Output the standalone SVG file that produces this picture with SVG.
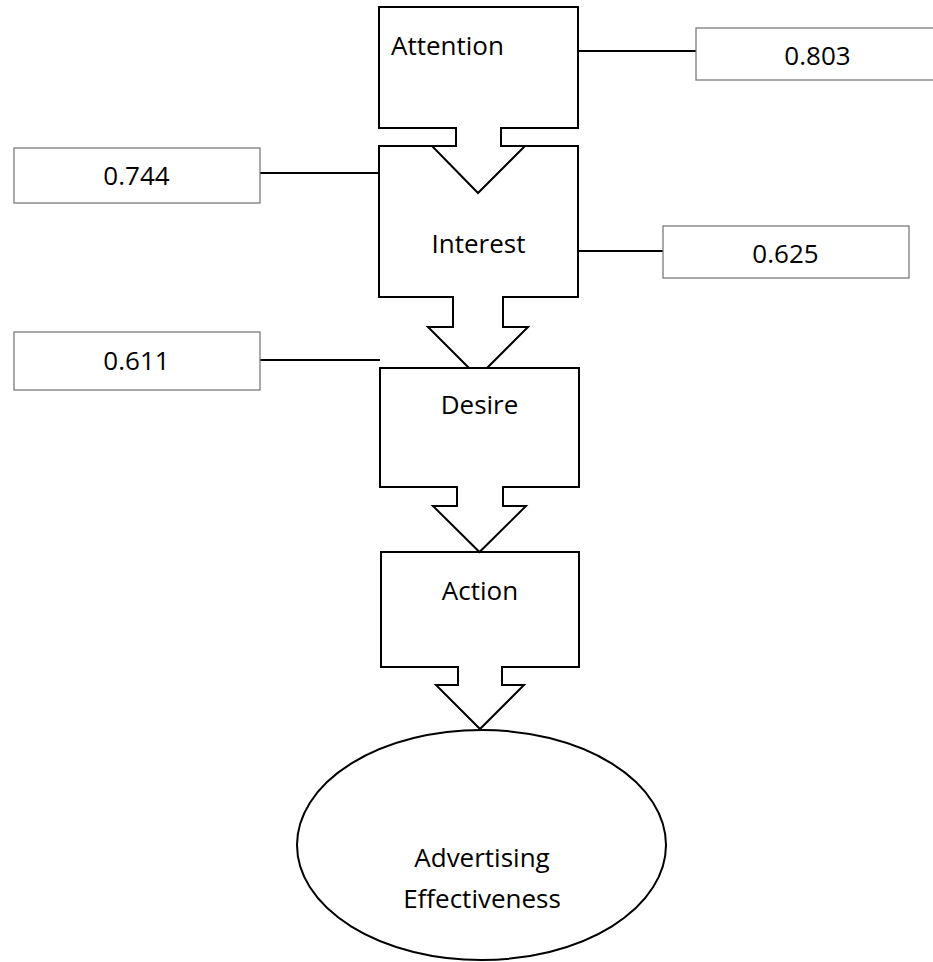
<svg xmlns="http://www.w3.org/2000/svg" width="933" height="962" viewBox="0 0 933 962">
<style>
.shape{fill:#fff;stroke:#000;stroke-width:2;stroke-linejoin:miter}
.vbox{fill:#fff;stroke:#707070;stroke-width:1.2}
.conn{stroke:#000;stroke-width:2;fill:none}
text{font-family:"Open Sans","Noto Sans","Liberation Sans",sans-serif;font-size:26px;fill:#000}
.c{text-anchor:middle}
</style>
<rect width="933" height="962" fill="#fff"/>
<g id="connectors">
<line class="conn" x1="578" y1="51" x2="696" y2="51"/>
<line class="conn" x1="260" y1="173" x2="379" y2="173"/>
<line class="conn" x1="578" y1="251" x2="663" y2="251"/>
<line class="conn" x1="260" y1="360" x2="380" y2="360"/>
</g>
<g id="effectiveness">
<ellipse class="shape" cx="481.5" cy="845" rx="184.5" ry="115"/>
<text class="c" x="482" y="867">Advertising</text>
<text class="c" x="482" y="908">Effectiveness</text>
</g>
<g id="action">
<path class="shape" d="M381,552 H579 V667 H502 V685 H524 L480,729 L436,685 H458 V667 H381 Z"/>
<text class="c" x="480" y="600">Action</text>
</g>
<g id="interest">
<path class="shape" d="M379,146 H578 V297 H503 V327 H528 L478,377 L428,327 H453 V297 H379 Z"/>
<text class="c" x="478.5" y="253">Interest</text>
</g>
<g id="desire">
<path class="shape" d="M380,368 H579 V487 H503 V506 H526 L479.5,552 L433,506 H457 V487 H380 Z"/>
<text class="c" x="479.5" y="414">Desire</text>
</g>
<g id="attention">
<path class="shape" d="M379,7 H578 V128 H501 V146 H525 L478,193 L432,146 H456 V128 H379 Z"/>
<text x="391" y="55">Attention</text>
</g>
<g id="v803">
<rect class="vbox" x="696" y="28" width="246" height="52"/>
<text class="c" x="817.5" y="65">0.803</text>
</g>
<g id="v744">
<rect class="vbox" x="14" y="148" width="246" height="55"/>
<text class="c" x="136.5" y="185">0.744</text>
</g>
<g id="v625">
<rect class="vbox" x="663" y="226" width="246" height="52"/>
<text class="c" x="785.5" y="263">0.625</text>
</g>
<g id="v611">
<rect class="vbox" x="14" y="332" width="246" height="58"/>
<text class="c" x="136.5" y="370">0.611</text>
</g>
</svg>
